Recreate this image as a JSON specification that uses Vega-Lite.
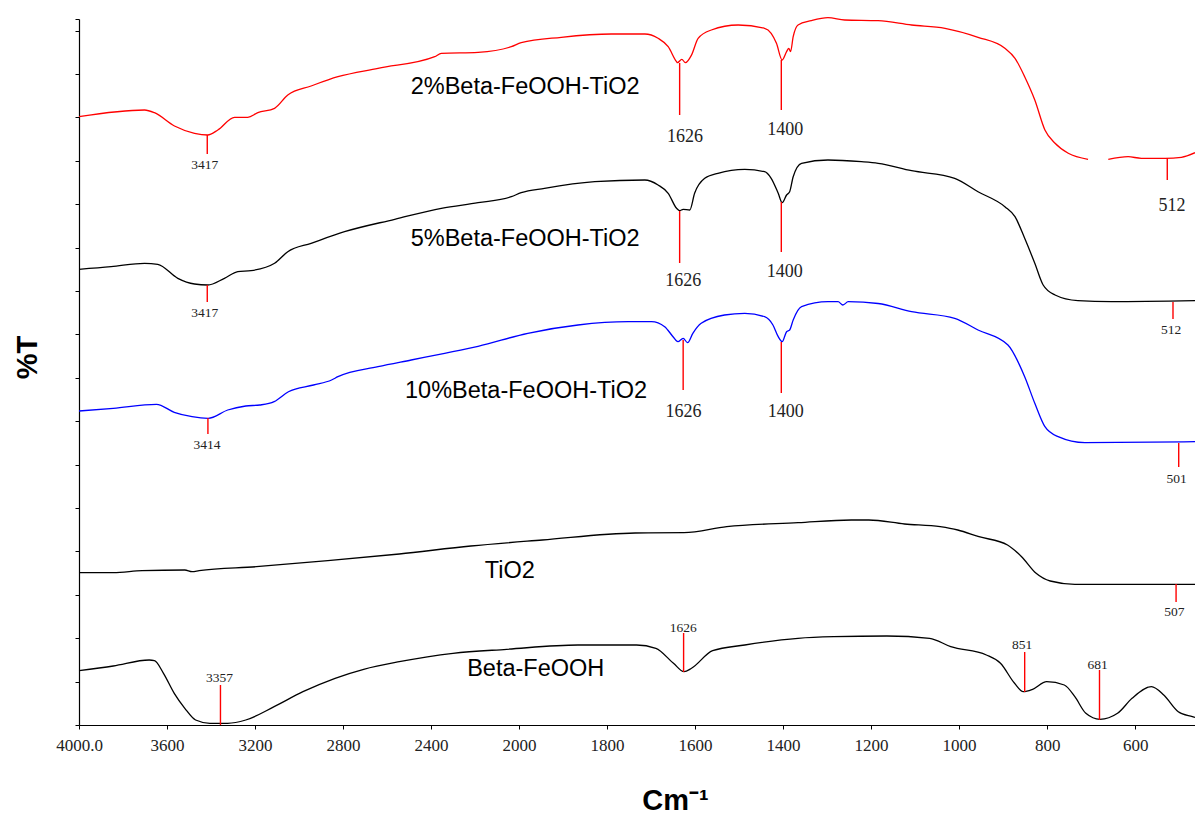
{
  "$schema": "https://vega.github.io/schema/vega-lite/v6.json",
  "autosize": "none",
  "padding": {"left": 79, "top": 19, "right": 0, "bottom": 90},
  "width": 1116,
  "height": 706,
  "background": "white",
  "config": {"view": {"stroke": null}},
  "datasets": {
    "spectra": [
      {"s":"2%","w":4000,"t":608.3},{"s":"2%","w":3702,"t":615},{"s":"2%","w":3657,"t":612.3},{"s":"2%","w":3566,"t":599},{"s":"2%","w":3475,"t":591.7},{"s":"2%","w":3415,"t":590},{"s":"2%","w":3369,"t":595},{"s":"2%","w":3293,"t":607.7},{"s":"2%","w":3233,"t":607.7},{"s":"2%","w":3187,"t":612.3},{"s":"2%","w":3111,"t":616.7},{"s":"2%","w":3051,"t":630},{"s":"2%","w":2945,"t":639},{"s":"2%","w":2823,"t":648.3},{"s":"2%","w":2641,"t":656.7},{"s":"2%","w":2383,"t":668.3},{"s":"2%","w":2353,"t":671.7},{"s":"2%","w":2186,"t":672.7},{"s":"2%","w":2035,"t":678.3},{"s":"2%","w":1995,"t":682.3},{"s":"2%","w":1904,"t":687.7},{"s":"2%","w":1790,"t":691},{"s":"2%","w":1714,"t":691},{"s":"2%","w":1684,"t":686.7},{"s":"2%","w":1661,"t":678.3},{"s":"2%","w":1642,"t":663.3},{"s":"2%","w":1640,"t":662.3},{"s":"2%","w":1630,"t":665.7},{"s":"2%","w":1622,"t":662.3},{"s":"2%","w":1608,"t":670},{"s":"2%","w":1593,"t":686.7},{"s":"2%","w":1563,"t":695},{"s":"2%","w":1502,"t":700},{"s":"2%","w":1442,"t":696.7},{"s":"2%","w":1427,"t":691.7},{"s":"2%","w":1415,"t":681.7},{"s":"2%","w":1402,"t":665},{"s":"2%","w":1392,"t":673.3},{"s":"2%","w":1387,"t":676.7},{"s":"2%","w":1383,"t":673.3},{"s":"2%","w":1377,"t":688.3},{"s":"2%","w":1366,"t":700},{"s":"2%","w":1336,"t":704.3},{"s":"2%","w":1298,"t":707.3},{"s":"2%","w":1260,"t":705},{"s":"2%","w":1184,"t":704.3},{"s":"2%","w":1108,"t":700},{"s":"2%","w":1032,"t":696.7},{"s":"2%","w":957,"t":687.7},{"s":"2%","w":896,"t":676.7},{"s":"2%","w":873,"t":666.7},{"s":"2%","w":851,"t":648.3},{"s":"2%","w":828,"t":625},{"s":"2%","w":805,"t":595},{"s":"2%","w":782,"t":581.7},{"s":"2%","w":752,"t":571.7},{"s":"2%","w":707,"t":565.7},{"s":"2%","w":684,"t":null},{"s":"2%","w":661,"t":565.7},{"s":"2%","w":616,"t":568.3},{"s":"2%","w":586,"t":566.7},{"s":"2%","w":532,"t":566.7},{"s":"2%","w":495,"t":567.7},{"s":"2%","w":464,"t":572.3},

      {"s":"5%","w":4000,"t":455.7},{"s":"5%","w":3854,"t":458.3},{"s":"5%","w":3702,"t":461.7},{"s":"5%","w":3642,"t":460.7},{"s":"5%","w":3551,"t":446.7},{"s":"5%","w":3475,"t":441},{"s":"5%","w":3415,"t":440},{"s":"5%","w":3339,"t":446.7},{"s":"5%","w":3278,"t":453.3},{"s":"5%","w":3218,"t":454.3},{"s":"5%","w":3111,"t":461.7},{"s":"5%","w":3051,"t":473.3},{"s":"5%","w":2945,"t":481.7},{"s":"5%","w":2793,"t":493.3},{"s":"5%","w":2565,"t":505.7},{"s":"5%","w":2353,"t":516.7},{"s":"5%","w":2186,"t":522.3},{"s":"5%","w":2035,"t":528.3},{"s":"5%","w":1995,"t":532.3},{"s":"5%","w":1942,"t":536.7},{"s":"5%","w":1828,"t":543.3},{"s":"5%","w":1714,"t":545},{"s":"5%","w":1684,"t":540},{"s":"5%","w":1661,"t":531.7},{"s":"5%","w":1642,"t":516.7},{"s":"5%","w":1635,"t":514.3},{"s":"5%","w":1627,"t":515.7},{"s":"5%","w":1612,"t":515},{"s":"5%","w":1601,"t":531.7},{"s":"5%","w":1578,"t":546.7},{"s":"5%","w":1548,"t":551.7},{"s":"5%","w":1487,"t":555.7},{"s":"5%","w":1442,"t":553.3},{"s":"5%","w":1427,"t":546.7},{"s":"5%","w":1411,"t":531.7},{"s":"5%","w":1402,"t":522.3},{"s":"5%","w":1392,"t":530},{"s":"5%","w":1385,"t":533.3},{"s":"5%","w":1377,"t":548.3},{"s":"5%","w":1358,"t":561.7},{"s":"5%","w":1298,"t":565},{"s":"5%","w":1222,"t":563.3},{"s":"5%","w":1184,"t":561.7},{"s":"5%","w":1108,"t":554.3},{"s":"5%","w":1010,"t":546.7},{"s":"5%","w":957,"t":533.3},{"s":"5%","w":896,"t":518.3},{"s":"5%","w":873,"t":508.3},{"s":"5%","w":851,"t":486.7},{"s":"5%","w":828,"t":461.7},{"s":"5%","w":809,"t":440},{"s":"5%","w":782,"t":430},{"s":"5%","w":730,"t":424.3},{"s":"5%","w":654,"t":423.3},{"s":"5%","w":464,"t":424.3},

      {"s":"10%","w":4000,"t":314},{"s":"10%","w":3844,"t":316.7},{"s":"10%","w":3648,"t":320.7},{"s":"10%","w":3567,"t":312.7},{"s":"10%","w":3486,"t":308.3},{"s":"10%","w":3413,"t":306.7},{"s":"10%","w":3324,"t":315},{"s":"10%","w":3242,"t":319},{"s":"10%","w":3178,"t":320},{"s":"10%","w":3113,"t":323.3},{"s":"10%","w":3048,"t":333.3},{"s":"10%","w":2934,"t":340},{"s":"10%","w":2852,"t":345},{"s":"10%","w":2823,"t":348.3},{"s":"10%","w":2641,"t":358.3},{"s":"10%","w":2490,"t":365},{"s":"10%","w":2338,"t":371.7},{"s":"10%","w":2186,"t":378.7},{"s":"10%","w":1980,"t":391.7},{"s":"10%","w":1866,"t":400},{"s":"10%","w":1752,"t":403.3},{"s":"10%","w":1699,"t":403.3},{"s":"10%","w":1669,"t":398.3},{"s":"10%","w":1650,"t":388.3},{"s":"10%","w":1639,"t":383.3},{"s":"10%","w":1627,"t":386.7},{"s":"10%","w":1617,"t":382.3},{"s":"10%","w":1605,"t":391.7},{"s":"10%","w":1586,"t":401.7},{"s":"10%","w":1533,"t":410},{"s":"10%","w":1487,"t":411.7},{"s":"10%","w":1442,"t":408.3},{"s":"10%","w":1423,"t":400},{"s":"10%","w":1411,"t":388.3},{"s":"10%","w":1402,"t":383.3},{"s":"10%","w":1392,"t":393.3},{"s":"10%","w":1385,"t":395},{"s":"10%","w":1377,"t":405},{"s":"10%","w":1358,"t":418.3},{"s":"10%","w":1298,"t":423.3},{"s":"10%","w":1275,"t":423.3},{"s":"10%","w":1264,"t":420},{"s":"10%","w":1252,"t":423.3},{"s":"10%","w":1184,"t":421.5},{"s":"10%","w":1108,"t":413.3},{"s":"10%","w":1010,"t":406.7},{"s":"10%","w":957,"t":395},{"s":"10%","w":889,"t":380},{"s":"10%","w":851,"t":348.3},{"s":"10%","w":828,"t":321.7},{"s":"10%","w":805,"t":298.3},{"s":"10%","w":775,"t":288.3},{"s":"10%","w":714,"t":282.3},{"s":"10%","w":464,"t":283.3},

      {"s":"TiO2","w":4000,"t":152.3},{"s":"TiO2","w":3844,"t":152.3},{"s":"TiO2","w":3713,"t":154.3},{"s":"TiO2","w":3519,"t":155},{"s":"TiO2","w":3486,"t":153.3},{"s":"TiO2","w":3454,"t":154.3},{"s":"TiO2","w":3194,"t":158.3},{"s":"TiO2","w":2869,"t":164.3},{"s":"TiO2","w":2544,"t":171},{"s":"TiO2","w":2219,"t":179},{"s":"TiO2","w":1947,"t":185},{"s":"TiO2","w":1736,"t":192},{"s":"TiO2","w":1625,"t":192.3},{"s":"TiO2","w":1528,"t":198.3},{"s":"TiO2","w":1366,"t":202.3},{"s":"TiO2","w":1245,"t":205},{"s":"TiO2","w":1205,"t":205},{"s":"TiO2","w":1124,"t":201},{"s":"TiO2","w":1043,"t":198.3},{"s":"TiO2","w":1003,"t":195},{"s":"TiO2","w":955,"t":188.3},{"s":"TiO2","w":890,"t":180},{"s":"TiO2","w":858,"t":168.3},{"s":"TiO2","w":825,"t":151.7},{"s":"TiO2","w":793,"t":144},{"s":"TiO2","w":737,"t":140.7},{"s":"TiO2","w":464,"t":140.7},

      {"s":"FeOOH","w":4000,"t":54.3},{"s":"FeOOH","w":3844,"t":59},{"s":"FeOOH","w":3681,"t":65},{"s":"FeOOH","w":3657,"t":64.3},{"s":"FeOOH","w":3616,"t":51.7},{"s":"FeOOH","w":3567,"t":31.7},{"s":"FeOOH","w":3519,"t":16.7},{"s":"FeOOH","w":3470,"t":5},{"s":"FeOOH","w":3405,"t":1.7},{"s":"FeOOH","w":3324,"t":1.7},{"s":"FeOOH","w":3242,"t":5},{"s":"FeOOH","w":3113,"t":18.3},{"s":"FeOOH","w":2982,"t":33.3},{"s":"FeOOH","w":2836,"t":46.7},{"s":"FeOOH","w":2706,"t":55.7},{"s":"FeOOH","w":2544,"t":63.3},{"s":"FeOOH","w":2300,"t":71.7},{"s":"FeOOH","w":2056,"t":75.7},{"s":"FeOOH","w":1866,"t":80},{"s":"FeOOH","w":1733,"t":80},{"s":"FeOOH","w":1689,"t":76.7},{"s":"FeOOH","w":1649,"t":61.7},{"s":"FeOOH","w":1625,"t":53.3},{"s":"FeOOH","w":1608,"t":56.7},{"s":"FeOOH","w":1560,"t":74.3},{"s":"FeOOH","w":1487,"t":80},{"s":"FeOOH","w":1366,"t":86.7},{"s":"FeOOH","w":1285,"t":88.3},{"s":"FeOOH","w":1164,"t":89},{"s":"FeOOH","w":1067,"t":86.7},{"s":"FeOOH","w":1019,"t":78.3},{"s":"FeOOH","w":938,"t":70},{"s":"FeOOH","w":906,"t":61.7},{"s":"FeOOH","w":874,"t":41.7},{"s":"FeOOH","w":854,"t":33.3},{"s":"FeOOH","w":833,"t":35.7},{"s":"FeOOH","w":801,"t":43.3},{"s":"FeOOH","w":761,"t":40},{"s":"FeOOH","w":737,"t":28.3},{"s":"FeOOH","w":712,"t":11.7},{"s":"FeOOH","w":680,"t":5.7},{"s":"FeOOH","w":640,"t":11.7},{"s":"FeOOH","w":607,"t":26.7},{"s":"FeOOH","w":563,"t":38.3},{"s":"FeOOH","w":535,"t":30},{"s":"FeOOH","w":502,"t":13.3},{"s":"FeOOH","w":470,"t":8.3},{"s":"FeOOH","w":464,"t":7.5}
    ],
    "peaks": [
      {"s":"2%","w":3417,"t1":590,"t2":571},{"s":"2%","w":1635,"t1":662,"t2":610},{"s":"2%","w":1404,"t1":665,"t2":615},{"s":"2%","w":527,"t1":567,"t2":545},
      {"s":"5%","w":3417,"t1":440,"t2":423},{"s":"5%","w":1635,"t1":514,"t2":462},{"s":"5%","w":1404,"t1":523,"t2":473},{"s":"5%","w":514,"t1":423,"t2":406},
      {"s":"10%","w":3414,"t1":307,"t2":291},{"s":"10%","w":1627,"t1":385,"t2":335},{"s":"10%","w":1404,"t1":383,"t2":332},{"s":"10%","w":501,"t1":282,"t2":258},
      {"s":"TiO2","w":507,"t1":141,"t2":123},
      {"s":"FeOOH","w":3357,"t1":40,"t2":0},{"s":"FeOOH","w":1626,"t1":92,"t2":53},{"s":"FeOOH","w":851,"t1":73,"t2":33},{"s":"FeOOH","w":681,"t1":55,"t2":5}
    ],
    "peakLabels": [
      {"s":"2%","label":"3417","w":3428,"t":560},{"s":"2%","label":"1626","w":1623,"t":588},{"s":"2%","label":"1400","w":1395,"t":595},{"s":"2%","label":"512","w":516,"t":519},
      {"s":"5%","label":"3417","w":3428,"t":412},{"s":"5%","label":"1626","w":1627,"t":444},{"s":"5%","label":"1400","w":1396,"t":453},{"s":"5%","label":"512","w":518,"t":395},
      {"s":"10%","label":"3414","w":3418,"t":280},{"s":"10%","label":"1626","w":1626,"t":313},{"s":"10%","label":"1400","w":1394,"t":313},{"s":"10%","label":"501","w":506,"t":246},
      {"s":"TiO2","label":"507","w":511,"t":113},
      {"s":"FeOOH","label":"3357","w":3361,"t":47},{"s":"FeOOH","label":"1626","w":1627,"t":97},{"s":"FeOOH","label":"851","w":857,"t":80},{"s":"FeOOH","label":"681","w":685,"t":60}
    ],
    "names": [
      {"name":"2%Beta-FeOOH-TiO2","w":1986,"t":638},
      {"name":"5%Beta-FeOOH-TiO2","w":1986,"t":486},
      {"name":"10%Beta-FeOOH-TiO2","w":1984,"t":334.5},
      {"name":"TiO2","w":2042,"t":154.5},
      {"name":"Beta-FeOOH","w":1962,"t":56.5}
    ]
  },
  "layer": [
    {
      "data": {"name": "spectra"},
      "mark": {"type": "line", "strokeWidth": 1.3, "interpolate": "monotone", "invalid": "break-paths-show-domains"},
      "encoding": {
        "x": {
          "field": "w", "type": "quantitative",
          "scale": {"domain": [4000, 2000, 464], "range": [0, 440, 1116], "zero": false, "nice": false},
          "axis": {
            "title": "Cm⁻¹",
            "titleFont": "Liberation Sans", "titleFontWeight": "bold", "titleFontSize": 29, "titleColor": "#000",
            "titleX": 596, "titleY": 84, "titleBaseline": "alphabetic", "titleAlign": "center",
            "values": [4000, 3600, 3200, 2800, 2400, 2000, 1800, 1600, 1400, 1200, 1000, 800, 600],
            "format": "d",
            "labelExpr": "datum.value == 4000 ? '4000.0' : datum.label",
            "labelFont": "Liberation Serif", "labelFontSize": 17, "labelColor": "#222",
            "labelPadding": 8, "labelOverlap": false, "labelFlush": false,
            "tickSize": 4, "tickColor": "#000", "domainColor": "#000", "domainWidth": 1.2, "grid": false
          }
        },
        "y": {
          "field": "t", "type": "quantitative",
          "scale": {"domain": [0, 706], "zero": false, "nice": false},
          "axis": {
            "title": "%T",
            "titleFont": "Liberation Sans", "titleFontWeight": "bold", "titleFontSize": 29, "titleColor": "#000",
            "titleX": -52, "titleY": 338, "titleBaseline": "middle", "titleAlign": "center",
            "values": [0, 43.4, 86.8, 130.2, 173.6, 217, 260.4, 303.8, 347.2, 390.6, 434, 477.4, 520.8, 564.2, 607.6, 651, 694.4, 706],
            "labels": false, "tickSize": 4, "tickColor": "#000", "domainColor": "#000", "domainWidth": 1.2, "grid": false
          }
        },
        "color": {
          "field": "s", "type": "nominal",
          "scale": {"domain": ["2%", "5%", "10%", "TiO2", "FeOOH"], "range": ["#ff0000", "#000000", "#0000ff", "#000000", "#000000"]},
          "legend": null
        }
      }
    },
    {
      "data": {"name": "peaks"},
      "mark": {"type": "rule", "color": "#ff0000", "strokeWidth": 1.4},
      "encoding": {
        "x": {"field": "w", "type": "quantitative"},
        "y": {"field": "t1", "type": "quantitative"},
        "y2": {"field": "t2"}
      }
    },
    {
      "data": {"name": "peakLabels"},
      "mark": {"type": "text", "font": "Liberation Serif", "align": "center", "baseline": "middle", "color": "#222"},
      "encoding": {
        "x": {"field": "w", "type": "quantitative"},
        "y": {"field": "t", "type": "quantitative"},
        "text": {"field": "label"},
        "size": {
          "condition": {"test": "(datum.s == '2%' || datum.s == '5%' || datum.s == '10%') && (datum.label == '1626' || datum.label == '1400') || (datum.s == '2%' && datum.label == '512')", "value": 18},
          "value": 13.5
        }
      }
    },
    {
      "data": {"name": "names"},
      "mark": {"type": "text", "font": "Liberation Sans", "fontSize": 23.5, "align": "center", "baseline": "middle", "color": "#000"},
      "encoding": {
        "x": {"field": "w", "type": "quantitative"},
        "y": {"field": "t", "type": "quantitative"},
        "text": {"field": "name"}
      }
    }
  ]
}
